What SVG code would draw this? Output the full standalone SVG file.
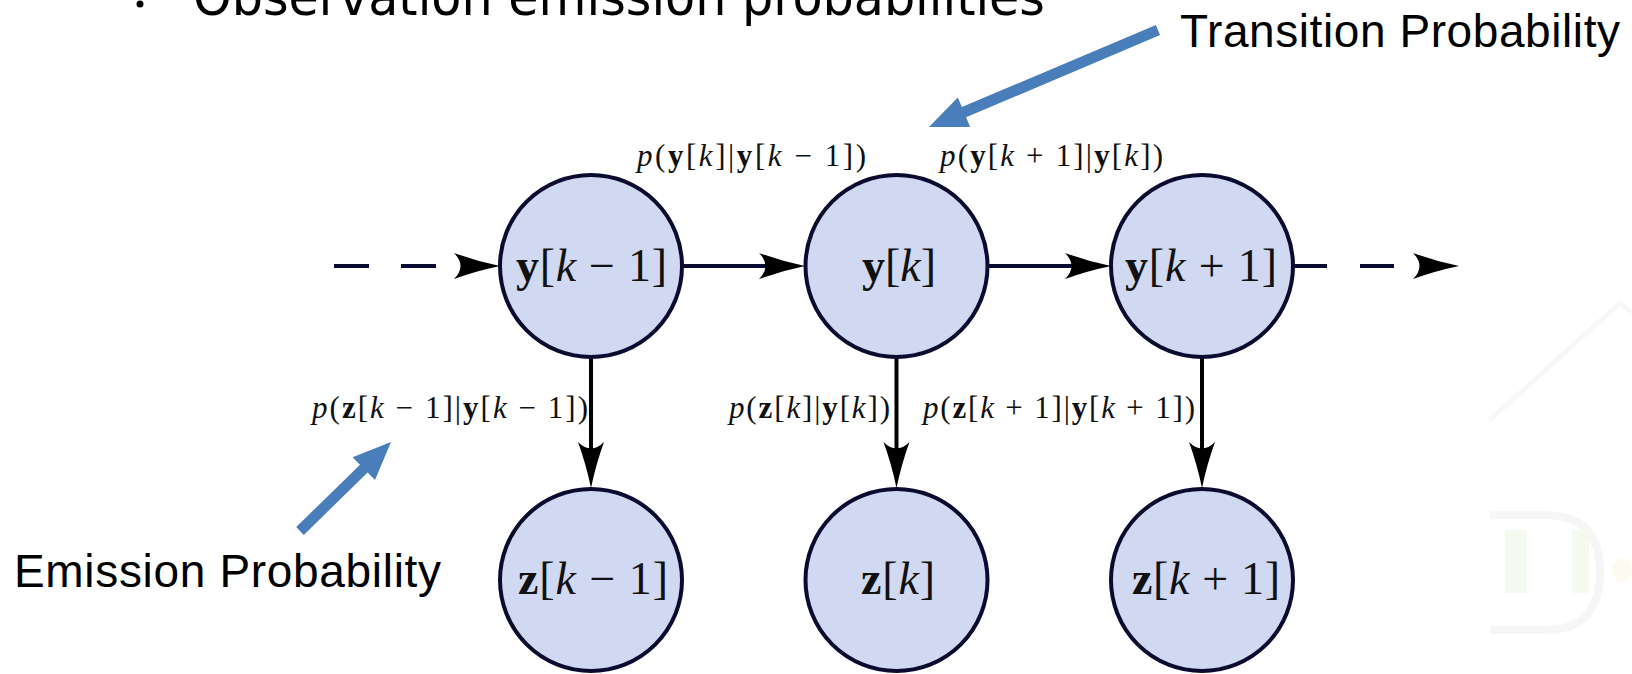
<svg xmlns="http://www.w3.org/2000/svg" width="1632" height="674" viewBox="0 0 1632 674">
  <style>
    .node { fill: #d0d9f1; stroke: #0b0b30; stroke-width: 4; }
    .math { font-family: "Liberation Serif", "Times New Roman", serif; fill: #111; }
    .nlab { font-size: 46px; text-anchor: middle; }
    .elab { font-size: 31px; }
    .b { font-weight: bold; }
    .i { font-style: italic; }
    .hline { stroke: #0b0b30; stroke-width: 4; fill: none; }
    .vline { stroke: #000; stroke-width: 4; fill: none; }
    .note { font-family: "Liberation Sans", Arial, sans-serif; font-size: 46px; fill: #000; }
    .blue { fill: #4a7ebb; }
  </style>
  <defs>
    <marker id="stealth" markerUnits="userSpaceOnUse" markerWidth="60" markerHeight="40" viewBox="-50 -20 60 40" refX="-20" refY="0" orient="auto" overflow="visible">
      <path d="M0,0 Q-24,-5 -46,-13 Q-33,0 -46,13 Q-24,5 0,0 Z" fill="#000"/>
    </marker>
  </defs>

  <rect width="1632" height="674" fill="#ffffff"/>

  <!-- faint background watermark -->
  <g id="watermark">
    <polyline points="1490,420 1620,303 1632,312" fill="none" stroke="#f7f7f7" stroke-width="5"/>
    <path d="M1490,515 L1545,515 Q1600,515 1600,572 Q1600,630 1545,630 L1490,630" fill="none" stroke="#f6f6f6" stroke-width="8"/>
    <rect x="1505" y="530" width="22" height="63" fill="#f4faf0"/>
    <rect x="1572" y="530" width="17" height="63" fill="#f4faf0"/>
    <ellipse cx="1622" cy="570" rx="10" ry="12" fill="#fdfbf0"/>
  </g>

  <!-- cut-off heading -->
  <g id="heading">
    <circle cx="140" cy="4" r="3.5" fill="#000"/>
    <text x="193" y="15" font-family="'DejaVu Sans', sans-serif" font-size="52" fill="#000" textLength="852" lengthAdjust="spacingAndGlyphs">Observation emission probabilities</text>
  </g>

  <!-- connectors -->
  <g id="connectors">
    <line class="hline" x1="334" y1="266" x2="480" y2="266" stroke-dasharray="35 32"/>
    <line class="hline" x1="479" y1="266" x2="480" y2="266" stroke="none" marker-end="url(#stealth)"/>
    <line class="hline" x1="683" y1="266" x2="785" y2="266" marker-end="url(#stealth)"/>
    <line class="hline" x1="988" y1="266" x2="1091" y2="266" marker-end="url(#stealth)"/>
    <line class="hline" x1="1293" y1="266" x2="1439" y2="266" stroke-dasharray="34 33"/>
    <line class="hline" x1="1438" y1="266" x2="1439" y2="266" stroke="none" marker-end="url(#stealth)"/>
    <line class="vline" x1="591" y1="357" x2="591" y2="468" marker-end="url(#stealth)"/>
    <line class="vline" x1="896.5" y1="357" x2="896.5" y2="468" marker-end="url(#stealth)"/>
    <line class="vline" x1="1202" y1="357" x2="1202" y2="468" marker-end="url(#stealth)"/>
  </g>

  <!-- probability labels -->
  <g id="labels" class="math elab">
    <text x="637" y="166" textLength="229"><tspan class="i">p</tspan>(<tspan class="b">y</tspan>[<tspan class="i">k</tspan>]|<tspan class="b">y</tspan>[<tspan class="i">k</tspan> − 1])</text>
    <text x="940" y="166" textLength="223"><tspan class="i">p</tspan>(<tspan class="b">y</tspan>[<tspan class="i">k</tspan> + 1]|<tspan class="b">y</tspan>[<tspan class="i">k</tspan>])</text>
    <text x="312" y="418" textLength="276"><tspan class="i">p</tspan>(<tspan class="b">z</tspan>[<tspan class="i">k</tspan> − 1]|<tspan class="b">y</tspan>[<tspan class="i">k</tspan> − 1])</text>
    <text x="729" y="418" textLength="161"><tspan class="i">p</tspan>(<tspan class="b">z</tspan>[<tspan class="i">k</tspan>]|<tspan class="b">y</tspan>[<tspan class="i">k</tspan>])</text>
    <text x="923" y="418" textLength="272"><tspan class="i">p</tspan>(<tspan class="b">z</tspan>[<tspan class="i">k</tspan> + 1]|<tspan class="b">y</tspan>[<tspan class="i">k</tspan> + 1])</text>
  </g>

  <!-- nodes -->
  <g id="node-y-km1">
    <circle class="node" cx="591" cy="266" r="91"/>
    <text class="math nlab" x="591.5" y="281" textLength="151"><tspan class="b">y</tspan>[<tspan class="i">k</tspan> − 1]</text>
  </g>
  <g id="node-y-k">
    <circle class="node" cx="896.5" cy="266" r="91"/>
    <text class="math nlab" x="899" y="281" textLength="74"><tspan class="b">y</tspan>[<tspan class="i">k</tspan>]</text>
  </g>
  <g id="node-y-kp1">
    <circle class="node" cx="1202" cy="266" r="91"/>
    <text class="math nlab" x="1201" y="281" textLength="152"><tspan class="b">y</tspan>[<tspan class="i">k</tspan> + 1]</text>
  </g>
  <g id="node-z-km1">
    <circle class="node" cx="591" cy="580" r="91"/>
    <text class="math nlab" x="593" y="594" textLength="150"><tspan class="b">z</tspan>[<tspan class="i">k</tspan> − 1]</text>
  </g>
  <g id="node-z-k">
    <circle class="node" cx="896.5" cy="580" r="91"/>
    <text class="math nlab" x="898" y="594" textLength="74"><tspan class="b">z</tspan>[<tspan class="i">k</tspan>]</text>
  </g>
  <g id="node-z-kp1">
    <circle class="node" cx="1202" cy="580" r="91"/>
    <text class="math nlab" x="1206" y="594" textLength="148"><tspan class="b">z</tspan>[<tspan class="i">k</tspan> + 1]</text>
  </g>

  <!-- annotations -->
  <g id="transition-note">
    <polygon class="blue" points="1155.9,24.9 961.9,107.1 957.8,97.5 929,127 970.2,126.9 966.1,117.3 1160.1,35.1"/>
    <text class="note" x="1180" y="47" textLength="440">Transition Probability</text>
  </g>
  <g id="emission-note">
    <polygon class="blue" points="296.2,527.1 360.0,464.7 352.6,457.2 391,442 375.0,480.0 367.6,472.5 303.8,534.9"/>
    <text class="note" x="14" y="587" textLength="427">Emission Probability</text>
  </g>
</svg>
